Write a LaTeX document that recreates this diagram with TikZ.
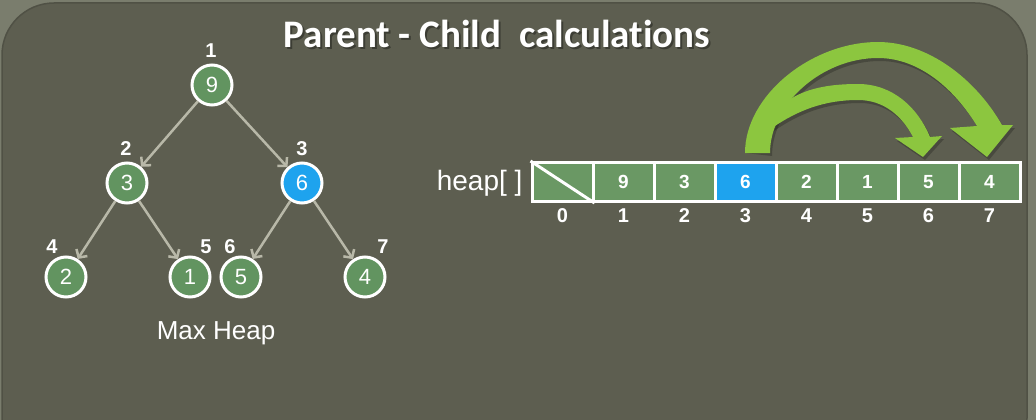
\documentclass[tikz,border=0pt]{standalone}
\usepackage{fontspec}
\setmainfont{Liberation Sans}
\newfontfamily\titlefont[Ligatures=NoCommon]{Carlito}
\usetikzlibrary{arrows.meta,calc}
\definecolor{outerbg}{HTML}{7A7D6D}
\definecolor{innerbg}{HTML}{5D5E50}
\definecolor{inneredge}{HTML}{505145}
\definecolor{nodegreen}{HTML}{629460}
\definecolor{cellgreen}{HTML}{6A9864}
\definecolor{hblue}{HTML}{1EA3EE}
\definecolor{edgegray}{HTML}{B8B8A8}
\definecolor{arrowgreen}{HTML}{8CC63F}
\begin{document}
\begin{tikzpicture}[x=1pt,y=-1pt,
  hnode/.style={circle, draw=white, line width=3pt, fill=nodegreen, minimum size=40pt,
    inner sep=0pt, text=white, font=\fontsize{22}{22}\selectfont},
  bluenode/.style={hnode, fill=hblue},
  idxlabel/.style={text=white, font=\bfseries\fontsize{20}{20}\selectfont, inner sep=0pt},
  cell/.style={rectangle, draw=white, line width=3pt, fill=cellgreen, minimum width=61pt,
    minimum height=39pt, inner sep=0pt, text=white, font=\bfseries\fontsize{19}{19}\selectfont},
  bluecell/.style={cell, fill=hblue},
  treeedge/.style={draw=edgegray, line width=2.5pt, -{Straight Barb[length=6pt,width=13pt,line width=2.5pt]}},
  greenarrow/.style={fill=arrowgreen},
  arrowshadow/.style={fill=black, opacity=0.22},
]
% background
\useasboundingbox (0,0) rectangle (1036,420);
\fill[outerbg] (0,0) rectangle (1036,420);
\fill[innerbg, draw=inneredge, line width=1.5pt, rounded corners=52pt] (2,3) rectangle (1027,470);

% title
\node[anchor=base, text=black, opacity=0.35, font=\titlefont\bfseries\fontsize{39}{39}\selectfont] (titleshadow) at (499,50) {Parent - Child~~calculations};
\node[anchor=base, text=white, font=\titlefont\bfseries\fontsize{39}{39}\selectfont] (title) at (497,48) {Parent - Child~~calculations};

% tree
\node[hnode] (t1) at (212,85) {9};
\node[hnode] (t2) at (127,183) {3};
\node[bluenode] (t3) at (302,183) {6};
\node[hnode] (t4) at (66,277) {2};
\node[hnode] (t5) at (190,277) {1};
\node[hnode] (t6) at (241,277) {5};
\node[hnode] (t7) at (365,277) {4};

\node[idxlabel] (l1) at (211,51) {1};
\node[idxlabel] (l2) at (126,149) {2};
\node[idxlabel] (l3) at (302,149) {3};
\node[idxlabel] (l4) at (52,247) {4};
\node[idxlabel] (l5) at (206,247) {5};
\node[idxlabel] (l6) at (230,247) {6};
\node[idxlabel] (l7) at (383,247) {7};

\draw[treeedge] (t1) -- (t2);
\draw[treeedge] (t1) -- (t3);
\draw[treeedge] (t2) -- (t4);
\draw[treeedge] (t2) -- (t5);
\draw[treeedge] (t3) -- (t6);
\draw[treeedge] (t3) -- (t7);

\node[anchor=base, text=white, font=\fontsize{26}{26}\selectfont] (maxheap) at (216,339) {Max Heap};

% array
\node[anchor=base east, text=white, font=\fontsize{28}{28}\selectfont] (heaplabel) at (526,190) {heap[ ]};
\node[cell] (c0) at (562.5,182) {};
\node[cell] (c1) at (623.5,182) {9};
\node[cell] (c2) at (684.5,182) {3};
\node[bluecell] (c3) at (745.5,182) {6};
\node[cell] (c4) at (806.5,182) {2};
\node[cell] (c5) at (867.5,182) {1};
\node[cell] (c6) at (928.5,182) {5};
\node[cell] (c7) at (989.5,182) {4};
\draw[white, line width=3pt] (c0.north west) -- (c0.south east);

\foreach \i in {0,...,7} {
  \node[idxlabel] (i\i) at ($(c\i.center)+(0,34)$) {\i};
}

% green curved arrows
\coordinate (smallstart) at (786,102);
\coordinate (bigstart) at (745,153);
\def\smallpath{(smallstart) .. controls (805,88) and (830,84) .. (858,84)
  .. controls (893,84) and (918,108) .. (930,137) -- (942,136) -- (923,157) -- (895,138) -- (913,137)
  .. controls (902,116) and (884,100) .. (858,100) .. controls (825,100) and (798,110) .. (772,128) -- cycle}
\def\bigpath{(bigstart) .. controls (745,95) and (812,42) .. (878,42)
  .. controls (927,42) and (975,78) .. (1002,125) -- (1013,125) -- (987,157) -- (950,128) -- (977,126)
  .. controls (955,90) and (920,58) .. (878,58) .. controls (822,58) and (770,104) .. (770,153) -- cycle}
\begin{scope}[shift={(2,3)}]
\fill[arrowshadow] \smallpath;
\fill[arrowshadow] \bigpath;
\end{scope}
\fill[greenarrow] \smallpath;
\fill[greenarrow] \bigpath;
\end{tikzpicture}
\end{document}
